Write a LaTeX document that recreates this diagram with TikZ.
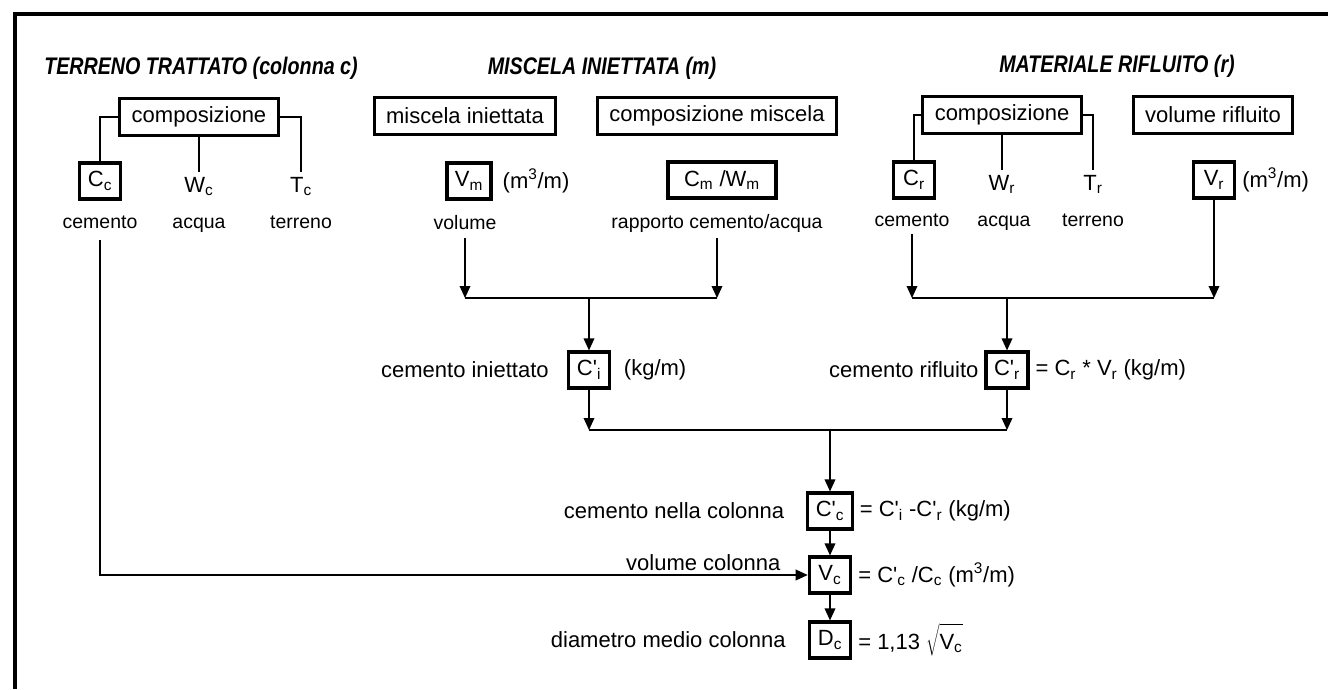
\documentclass[tikz,border=0pt]{standalone}
\usepackage{fontspec}
\usepackage{graphicx}
\setmainfont{Liberation Sans}
\usetikzlibrary{positioning,arrows.meta}
\newcommand{\prm}{\textquotesingle}

\begin{document}
\begin{tikzpicture}[
    x=0.75pt, y=-0.75pt,
    every node/.style={font=\fontsize{16.5}{19}\selectfont},
    box/.style={draw, line width=2.4pt, inner xsep=9pt, minimum height=27.5pt},
    var/.style={draw, line width=2.4pt, inner xsep=6pt, minimum height=27pt, minimum width=31pt},
    lbl/.style={anchor=base, font=\fontsize{14.6}{17}\selectfont},
    sym/.style={anchor=base},
    title/.style={font=\fontsize{18}{21}\selectfont\bfseries\itshape},
    conn/.style={line width=1pt},
    arr/.style={line width=1pt, -{Triangle[width=8pt,length=9pt]}}
    ]
    \useasboundingbox (0,0) rectangle (1328,689);
    \draw[line width=2.4pt] (15,689) -- (15,14) -- (1328,14);

    % titoli
    \node[title] (ttc) at (201,68) {\scalebox{0.82}[1]{TERRENO TRATTATO (colonna c)}};
    \node[title] (ttm) at (602,68) {\scalebox{0.82}[1]{MISCELA INIETTATA (m)}};
    \node[title] (ttr) at (1117,66) {\scalebox{0.82}[1]{MATERIALE RIFLUITO (r)}};

    % terreno trattato
    \node[box] (compc) at (199,117) {composizione};
    \node[var] (cc) at (100,181) {C\textsubscript{c}};
    \node[sym] (wc) at (199,192) {W\textsubscript{c}};
    \node[sym] (tcc) at (301,192) {T\textsubscript{c}};
    \node[lbl] (cemc) at (100,228) {cemento};
    \node[lbl] (acqc) at (199,228) {acqua};
    \node[lbl] (terc) at (301,228) {terreno};
    \draw[conn] (compc.west) -| (cc.north);
    \draw[conn] (compc.south) -- (wc.north);
    \draw[conn] (compc.east) -| (tcc.north);

    % miscela iniettata
    \node[box] (mi) at (465,116) {miscela iniettata};
    \node[box] (cmi) at (717,116) {composizione miscela};
    \node[var] (vm) at (469,181) {V\textsubscript{m}};
    \node[right=4pt of vm] (vmu) {(m\textsuperscript{3}/m)};
    \node[var, inner xsep=12pt] (cw) at (722,180) {C\textsubscript{m} /W\textsubscript{m}};
    \node[lbl] (vol) at (465,229) {volume};
    \node[lbl] (rap) at (717,228) {rapporto cemento/acqua};
    \coordinate (jm1) at (465,298);
    \coordinate (jm2) at (717,298);
    \coordinate (jm) at (589,298);
    \draw[arr] (465,238) -- (jm1);
    \draw[arr] (717,238) -- (jm2);
    \draw[conn] (jm1) -- (jm2);
    \node[var] (cci) at (589,370) {C\prm\textsubscript{i}};
    \node[left=10pt of cci] (lcci) {cemento iniettato};
    \node[right=6pt of cci] (ucci) {(kg/m)};
    \draw[arr] (jm) -- (cci.north);

    % materiale rifluito
    \node[box] (compr) at (1002,115) {composizione};
    \node[box] (vrif) at (1213,115) {volume rifluito};
    \node[var] (cr) at (914,180) {C\textsubscript{r}};
    \node[sym] (wr) at (1002,190) {W\textsubscript{r}};
    \node[sym] (trr) at (1093,190) {T\textsubscript{r}};
    \node[var] (vr) at (1214,180) {V\textsubscript{r}};
    \node[right=1pt of vr] (vru) {(m\textsuperscript{3}/m)};
    \node[lbl] (cemr) at (912,226) {cemento};
    \node[lbl] (acqr) at (1004,226) {acqua};
    \node[lbl] (terr) at (1093,226) {terreno};
    \draw[conn] (compr.west) -| (cr.north);
    \draw[conn] (compr.south) -- (wr.north);
    \draw[conn] (compr.east) -| (trr.north);
    \coordinate (jr1) at (912,298);
    \coordinate (jr2) at (1214,298);
    \coordinate (jr) at (1007,298);
    \draw[arr] (912,234) -- (jr1);
    \draw[arr] (vr.south) -- (jr2);
    \draw[conn] (jr1) -- (jr2);
    \node[var] (ccr) at (1007,370) {C\prm\textsubscript{r}};
    \node[left=1pt of ccr] (lccr) {cemento rifluito};
    \node[right=1pt of ccr] (uccr) {= C\textsubscript{r} * V\textsubscript{r} (kg/m)};
    \draw[arr] (jr) -- (ccr.north);

    % colonna
    \coordinate (jb1) at (589,430);
    \coordinate (jb2) at (1007,430);
    \coordinate (jb) at (830,430);
    \draw[arr] (cci.south) -- (jb1);
    \draw[arr] (ccr.south) -- (jb2);
    \draw[conn] (jb1) -- (jb2);
    \node[var] (ccc) at (830,511) {C\prm\textsubscript{c}};
    \node[var] (vc) at (830,575) {V\textsubscript{c}};
    \node[var] (dc) at (830,640) {D\textsubscript{c}};
    \node[left=13pt of ccc] (lccc) {cemento nella colonna};
    \node[anchor=base east] (lvc) at (785,570) {volume colonna};
    \node[left=13pt of dc] (ldc) {diametro medio colonna};
    \node[right=1pt of ccc] (fccc) {= C\prm\textsubscript{i} -C\prm\textsubscript{r} (kg/m)};
    \node[right=1pt of vc] (fvc) {= C\prm\textsubscript{c} /C\textsubscript{c} (m\textsuperscript{3}/m)};
    \node[right=1pt of dc] (fdc) {= 1,13 $\sqrt{\rule{0pt}{15pt}\mbox{V\textsubscript{c}}}$};
    \draw[arr] (jb) -- (ccc.north);
    \draw[arr] (ccc) -- (vc);
    \draw[arr] (vc) -- (dc);
    \draw[arr] (100,240) |- (vc.west);
\end{tikzpicture}
\end{document}
